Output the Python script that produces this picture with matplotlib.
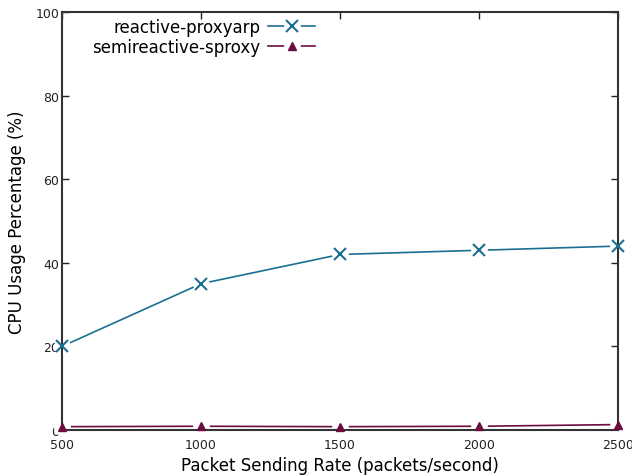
import matplotlib
matplotlib.use("Agg")
import matplotlib.pyplot as plt
from matplotlib.legend_handler import HandlerTuple

rates = [500, 1000, 1500, 2000, 2500]
reactive_proxyarp = [20, 35, 42, 43, 44]
semireactive_sproxy = [0.8, 0.9, 0.8, 0.9, 1.3]
series_names = ["reactive-proxyarp", "semireactive-sproxy"]
y_ticks = [0, 20, 40, 60, 80, 100]

blue = "#1b6f93"
purple = "#6d0c3f"

fig = plt.figure(figsize=(6.32, 4.77), dpi=100)
ax = fig.add_axes([0.0981, 0.0964, 0.8799, 0.8763])

handles = []
for ys, color, mk, ms, mew in [(reactive_proxyarp, blue, "x", 8, 1.5),
                               (semireactive_sproxy, purple, "^", 5.5, 1.0)]:
    ln, = ax.plot(rates, ys, color=color, lw=1.2, zorder=2, clip_on=False)
    gap, = ax.plot(rates, ys, ls="none", marker="o", ms=12, mfc="white",
                   mec="none", zorder=2.2, clip_on=False)
    pt, = ax.plot(rates, ys, ls="none", marker=mk, ms=ms, color=color,
                  mew=mew, zorder=3, clip_on=False)
    handles.append((ln, gap, pt))

ax.set_xlim(500, 2500)
ax.set_ylim(0, 100)
ax.set_xticks(rates)
ax.set_yticks(y_ticks)
ax.tick_params(direction="in", length=5, width=1, top=True, right=True,
               labelsize=9, pad=2, colors="#222222")
ax.tick_params(axis="x", pad=6)
for s in ax.spines.values():
    s.set_linewidth(1.5)
    s.set_color("#333333")

ax.set_xlabel("Packet Sending Rate (packets/second)", fontsize=12, labelpad=3)
ax.set_ylabel("CPU Usage Percentage (%)", fontsize=12, labelpad=7)

ax.legend(handles, series_names, handler_map={tuple: HandlerTuple(ndivide=1)},
          loc="upper left", bbox_to_anchor=(0.033, 1.013), frameon=False,
          markerfirst=False, fontsize=12, handlelength=2.8, handletextpad=0.5,
          labelspacing=0.1, borderaxespad=0.3)

fig.savefig("out.png", dpi=100)
